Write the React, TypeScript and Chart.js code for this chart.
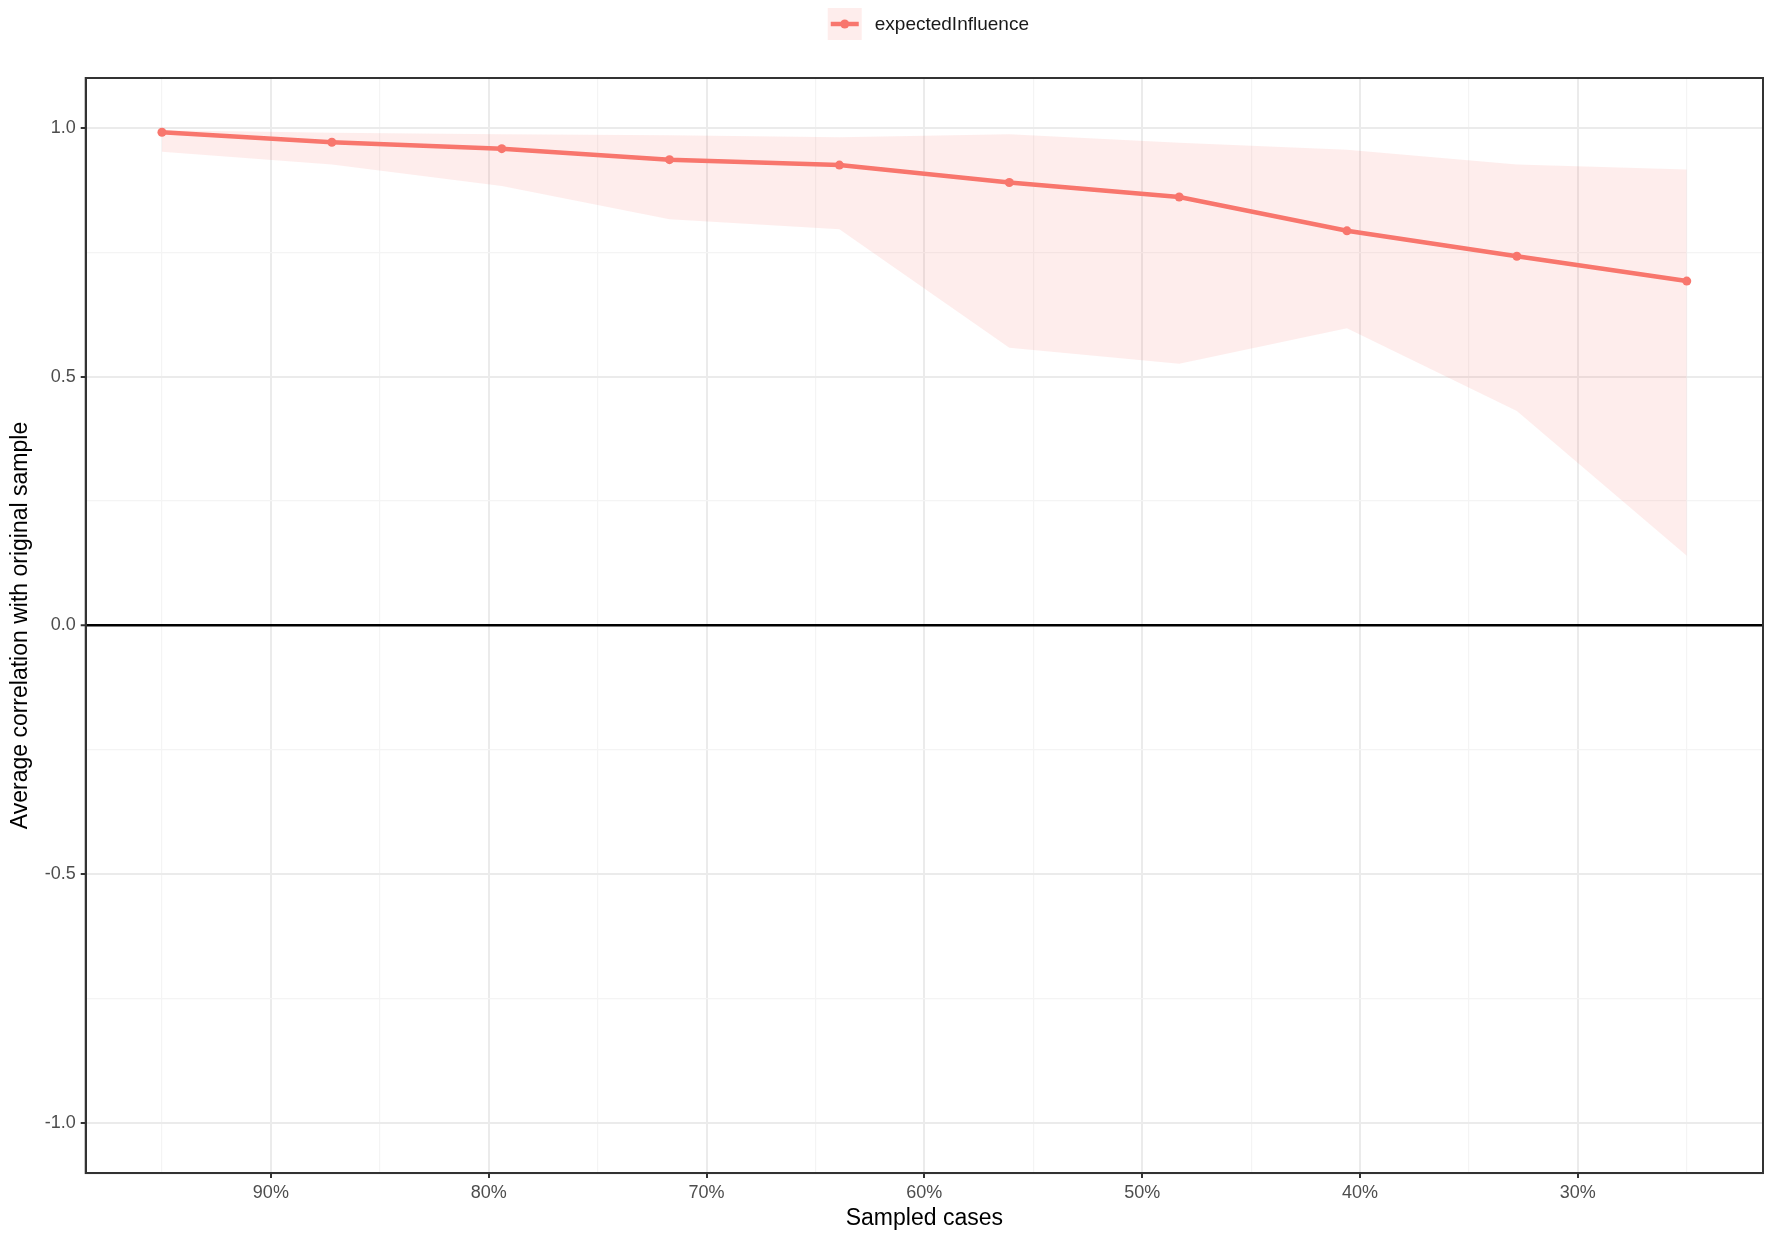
import React, { useEffect, useRef } from "react";
import { Chart, registerables } from "chart.js";

Chart.register(...registerables);

// ---- data ----
const sampledCases = [95, 87.2, 79.4, 71.7, 63.9, 56.1, 48.3, 40.6, 32.8, 25];
const meanCorrelation = [0.991, 0.971, 0.958, 0.936, 0.925, 0.89, 0.861, 0.793, 0.742, 0.692];
const upperBound = [0.995, 0.99, 0.987, 0.985, 0.981, 0.987, 0.97, 0.956, 0.926, 0.916];
const lowerBound = [0.952, 0.926, 0.883, 0.816, 0.796, 0.558, 0.526, 0.597, 0.431, 0.14];

const yTickValues = [-1, -0.75, -0.5, -0.25, 0, 0.25, 0.5, 0.75, 1];
const yMajorTicks = [-1, -0.5, 0, 0.5, 1];
const xTickValues = [95, 90, 85, 80, 75, 70, 65, 60, 55, 50, 45, 40, 35, 30, 25];
const xMajorTicks = [90, 80, 70, 60, 50, 40, 30];

const seriesName = "expectedInfluence";
const xTitle = "Sampled cases";
const yTitle = "Average correlation with original sample";

const LINE_COLOR = "#F8766D";
const RIBBON_COLOR = "rgba(248,118,109,0.13)";
const FONT = "'Liberation Sans', Arial, Helvetica, sans-serif";

const isIn = (arr: number[], v: number) => arr.some((m) => Math.abs(m - v) < 1e-6);

const panelBorder = {
  id: "panelBorder",
  afterDraw(chart: any) {
    const { ctx, chartArea } = chart;
    ctx.save();
    ctx.strokeStyle = "#333333";
    ctx.lineWidth = 2;
    ctx.strokeRect(chartArea.left, chartArea.top, chartArea.right - chartArea.left, chartArea.bottom - chartArea.top);
    ctx.restore();
  },
};

const ggLegend = {
  id: "ggLegend",
  afterDraw(chart: any) {
    const { ctx, chartArea } = chart;
    ctx.save();
    ctx.font = `19px ${FONT}`;
    const textW = ctx.measureText(seriesName).width;
    const keyW = 34;
    const keyH = 32;
    const gap = 13;
    const total = keyW + gap + textW;
    const cx = (chartArea.left + chartArea.right) / 2 + 4;
    const startX = cx - total / 2;
    const cy = 24;
    // key background (ribbon fill)
    ctx.fillStyle = RIBBON_COLOR;
    ctx.fillRect(startX, cy - keyH / 2, keyW, keyH);
    // key line
    ctx.strokeStyle = LINE_COLOR;
    ctx.lineWidth = 4.5;
    ctx.beginPath();
    ctx.moveTo(startX + 3, cy);
    ctx.lineTo(startX + keyW - 3, cy);
    ctx.stroke();
    // key point
    ctx.fillStyle = LINE_COLOR;
    ctx.beginPath();
    ctx.arc(startX + keyW / 2, cy, 4.5, 0, Math.PI * 2);
    ctx.fill();
    // text
    ctx.fillStyle = "#1A1A1A";
    ctx.textBaseline = "middle";
    ctx.textAlign = "left";
    ctx.fillText(seriesName, startX + keyW + gap, cy + 1);
    ctx.restore();
  },
};

export default function App() {
  const canvasRef = useRef<HTMLCanvasElement | null>(null);

  useEffect(() => {
    document.body.style.margin = "0";
    const canvas = canvasRef.current;
    if (!canvas) return;

    const meanPts = sampledCases.map((x, i) => ({ x, y: meanCorrelation[i] }));
    const upperPts = sampledCases.map((x, i) => ({ x, y: upperBound[i] }));
    const lowerPts = sampledCases.map((x, i) => ({ x, y: lowerBound[i] }));

    const chart = new Chart(canvas, {
      type: "line",
      data: {
        datasets: [
          {
            label: seriesName,
            data: meanPts,
            borderColor: LINE_COLOR,
            backgroundColor: LINE_COLOR,
            borderWidth: 4.5,
            pointRadius: 4.5,
            pointBorderWidth: 0,
            pointBackgroundColor: LINE_COLOR,
            fill: false,
            tension: 0,
          },
          {
            label: "upper",
            data: upperPts,
            borderWidth: 0,
            borderColor: "rgba(0,0,0,0)",
            pointRadius: 0,
            backgroundColor: RIBBON_COLOR,
            fill: "+1",
            tension: 0,
          },
          {
            label: "lower",
            data: lowerPts,
            borderWidth: 0,
            borderColor: "rgba(0,0,0,0)",
            pointRadius: 0,
            backgroundColor: RIBBON_COLOR,
            fill: false,
            tension: 0,
          },
        ],
      },
      options: {
        responsive: false,
        animation: false,
        devicePixelRatio: 1,
        layout: { padding: { top: 78, left: 9.5, right: 9, bottom: 0 } },
        plugins: {
          legend: { display: false },
          tooltip: { enabled: false },
        },
        scales: {
          x: {
            type: "linear",
            reverse: true,
            min: 21.5,
            max: 98.5,
            afterBuildTicks: (s: any) => {
              s.ticks = xTickValues.map((v) => ({ value: v }));
            },
            ticks: {
              autoSkip: false,
              maxRotation: 0,
              padding: 4,
              color: "#4D4D4D",
              font: { family: FONT, size: 18, lineHeight: 1.2 },
              callback: (v: any) => (isIn(xMajorTicks, Number(v)) ? `${v}%` : ""),
            },
            grid: {
              color: (ctx: any) => (isIn(xMajorTicks, ctx.tick?.value) ? "#EBEBEB" : "#F4F4F4"),
              lineWidth: (ctx: any) => (isIn(xMajorTicks, ctx.tick?.value) ? 2 : 1.2),
              tickColor: (ctx: any) => (isIn(xMajorTicks, ctx.tick?.value) ? "#333333" : "rgba(0,0,0,0)"),
              tickLength: 5,
              tickWidth: 2,
            },
            border: { display: true, color: "#333333", width: 2 },
            title: {
              display: true,
              text: xTitle,
              color: "#000000",
              font: { family: FONT, size: 23, lineHeight: 0.95 },
              padding: { top: 0, bottom: 5.5 },
            },
          },
          y: {
            type: "linear",
            min: -1.1,
            max: 1.1,
            afterBuildTicks: (s: any) => {
              s.ticks = yTickValues.map((v) => ({ value: v }));
            },
            ticks: {
              autoSkip: false,
              padding: 5,
              color: "#4D4D4D",
              font: { family: FONT, size: 18, lineHeight: 1.2 },
              callback: (v: any) => (isIn(yMajorTicks, Number(v)) ? Number(v).toFixed(1) : ""),
            },
            grid: {
              color: (ctx: any) => {
                const v = ctx.tick?.value;
                if (v !== undefined && Math.abs(v) < 1e-6) return "#000000";
                return isIn(yMajorTicks, v) ? "#EBEBEB" : "#F4F4F4";
              },
              lineWidth: (ctx: any) => {
                const v = ctx.tick?.value;
                if (v !== undefined && Math.abs(v) < 1e-6) return 2.5;
                return isIn(yMajorTicks, v) ? 2 : 1.2;
              },
              tickColor: (ctx: any) => (isIn(yMajorTicks, ctx.tick?.value) ? "#333333" : "rgba(0,0,0,0)"),
              tickLength: 5,
              tickWidth: 2,
            },
            border: { display: true, color: "#333333", width: 2 },
            title: {
              display: true,
              text: yTitle,
              color: "#000000",
              font: { family: FONT, size: 23, lineHeight: 1.0 },
              padding: { top: 0, bottom: 7.2 },
            },
          },
        },
      },
      plugins: [panelBorder, ggLegend],
    });

    return () => chart.destroy();
  }, []);

  return (
    <div style={{ width: 1772, height: 1235, background: "#ffffff" }}>
      <canvas ref={canvasRef} width={1772} height={1235} style={{ display: "block" }} />
    </div>
  );
}
